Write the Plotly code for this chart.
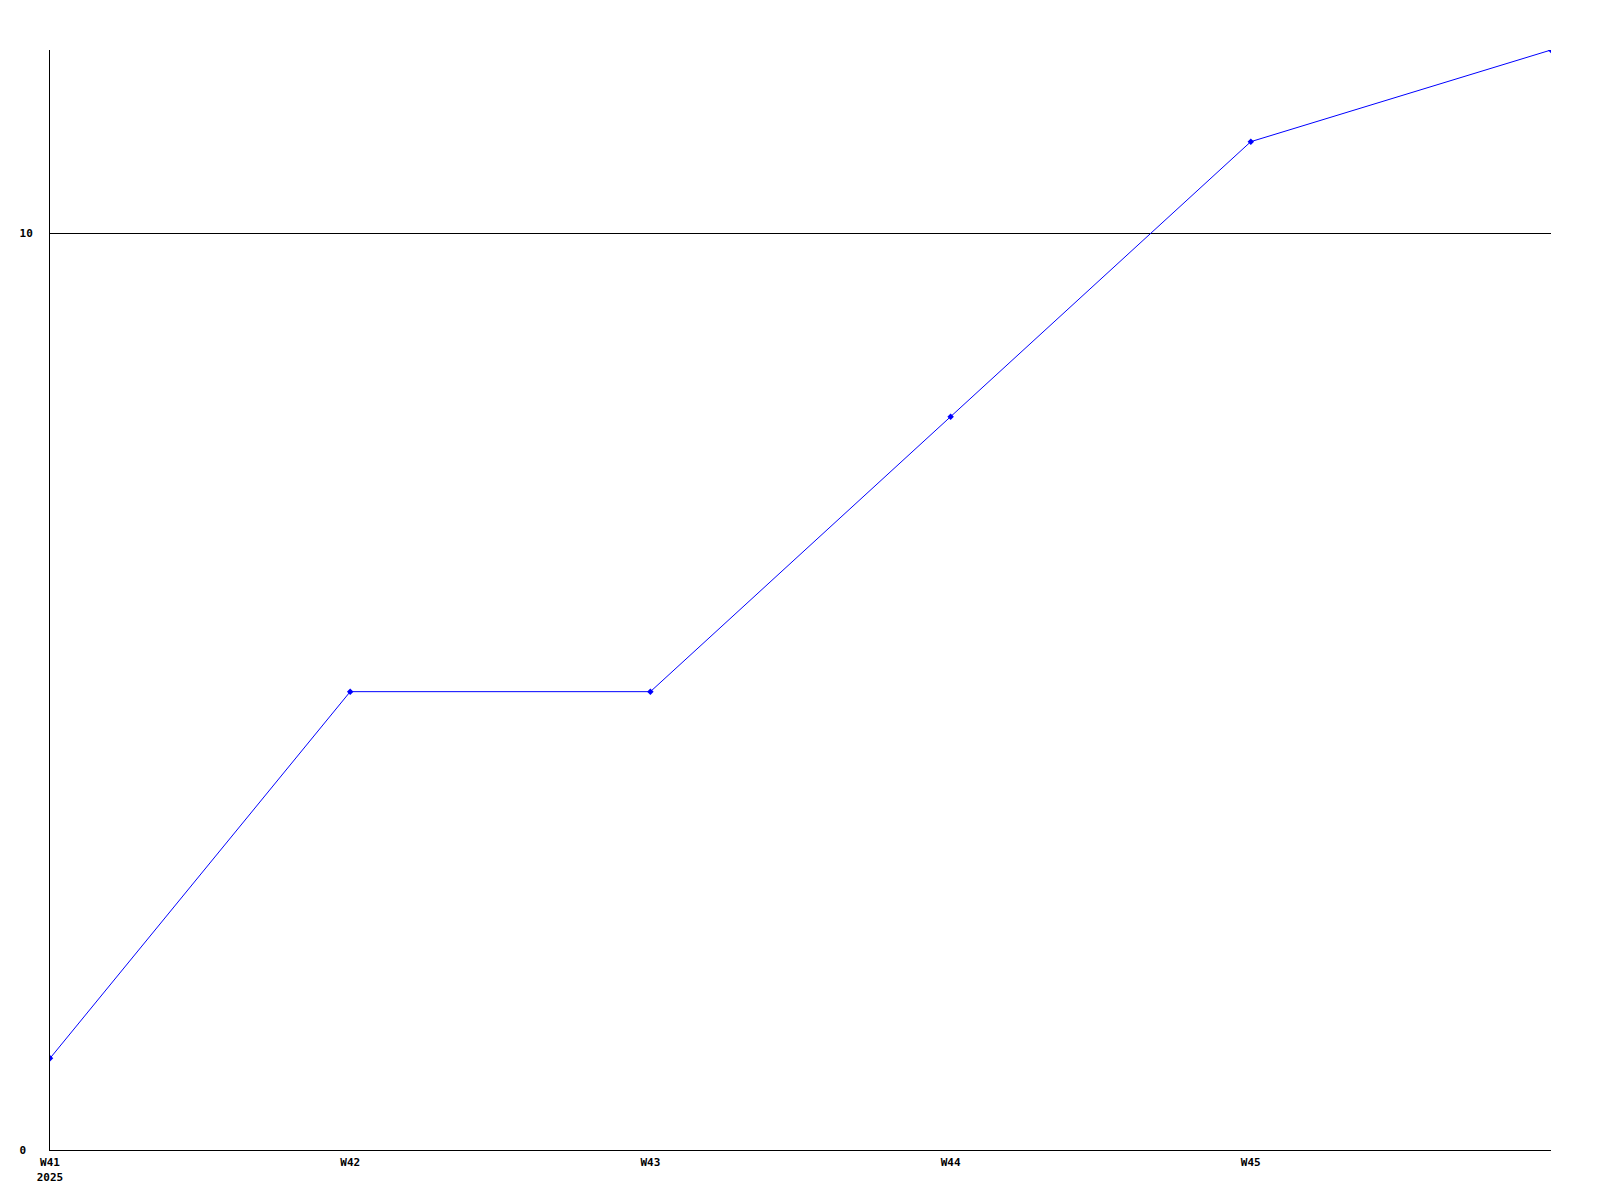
import plotly.graph_objects as go

weeks = ["W41", "W42", "W43", "W44", "W45", "W46"]
values = [1, 5, 5, 8, 11, 12]
tick_labels = ["W41<br>2025", "W42", "W43", "W44", "W45"]
y_ticks = [0, 10]

x_idx = list(range(len(weeks)))

fig = go.Figure()
fig.add_trace(go.Scatter(
    x=x_idx, y=values, mode="lines+markers",
    line=dict(color="#0000ff", width=1),
    marker=dict(symbol="diamond", size=5, color="#0000ff"),
    text=weeks, hoverinfo="text+y",
    cliponaxis=True,
))

tickfont = dict(family="DejaVu Sans Mono", size=11, color="#000000", weight="bold")

fig.update_layout(
    width=1600, height=1200,
    margin=dict(l=42, r=57, t=42, b=58),
    paper_bgcolor="white", plot_bgcolor="white",
    showlegend=False,
    xaxis=dict(
        range=[0, 5], tickmode="array", tickvals=x_idx[:5], ticktext=tick_labels,
        showgrid=False, zeroline=False, showline=True, linecolor="black", linewidth=1,
        ticks="", tickfont=tickfont, ticklabelstandoff=2,
    ),
    yaxis=dict(
        range=[0, 12], tickmode="array", tickvals=y_ticks,
        ticktext=["0\u00a0", "10"],
        showgrid=True, gridcolor="black", gridwidth=1, zeroline=False,
        showline=True, linecolor="black", linewidth=1,
        ticks="", tickfont=tickfont, ticklabelstandoff=14,
    ),
)

fig.write_html("out.html")
